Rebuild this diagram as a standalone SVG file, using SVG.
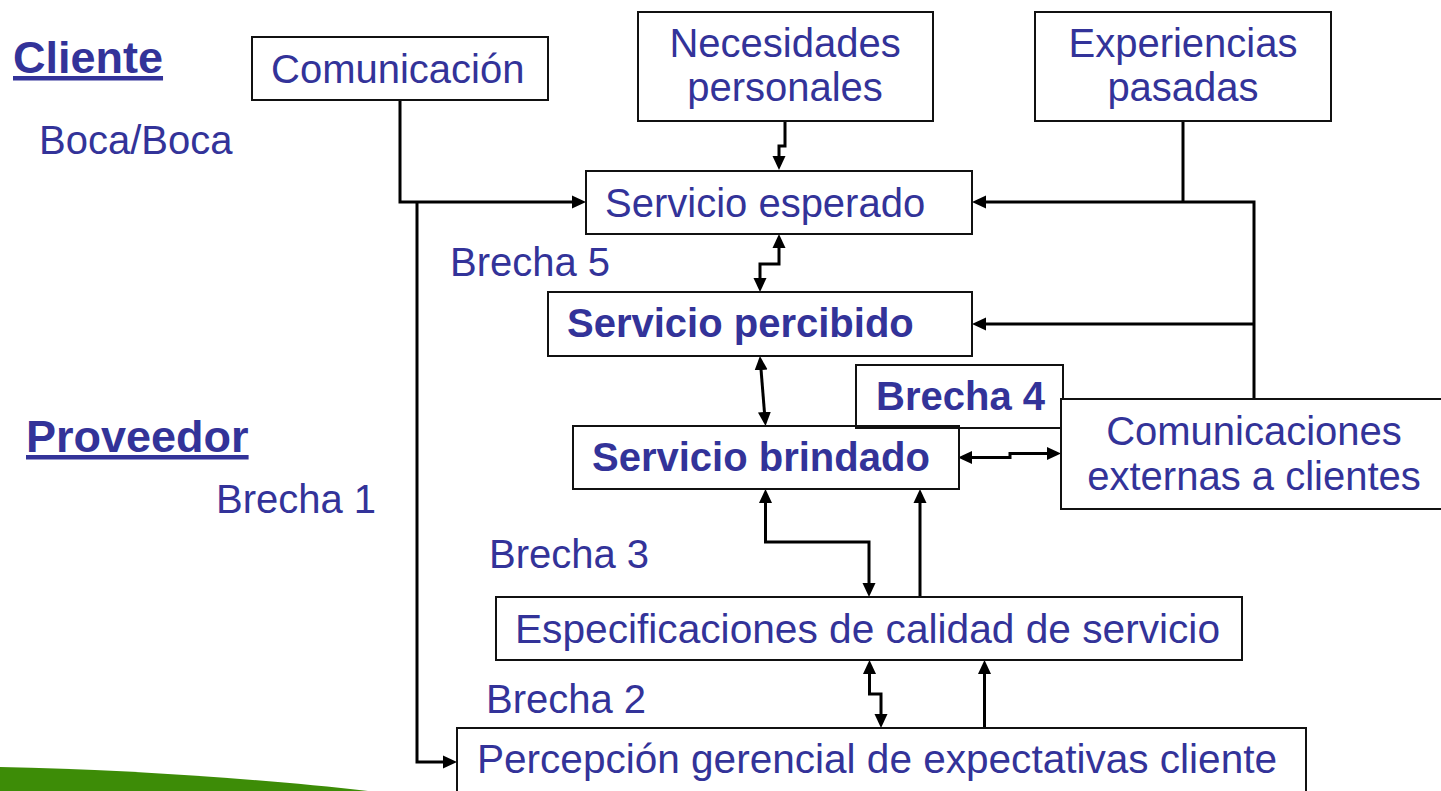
<svg xmlns="http://www.w3.org/2000/svg" width="1441" height="791" viewBox="0 0 1441 791">
<defs>
<style>
.box{fill:#fff;stroke:#111;stroke-width:2}
.t{font-family:"Liberation Sans",Arial,sans-serif;font-size:40px;fill:#333399}
.b{font-weight:bold}
.h{font-family:"Liberation Sans",Arial,sans-serif;font-size:45px;font-weight:bold;fill:#333399;text-decoration:underline}
.c{fill:none;stroke:#000;stroke-width:3}
.a{marker-end:url(#ah)}
.aa{marker-start:url(#ah);marker-end:url(#ah)}
</style>
<marker id="ah" markerUnits="userSpaceOnUse" viewBox="0 0 14 14" markerWidth="14" markerHeight="14" refX="7" refY="7" orient="auto-start-reverse">
<path d="M0,0.5 L14,7 L0,13.5 Z" fill="#000"/>
</marker>
</defs>
<rect width="1441" height="791" fill="#fff"/>
<path d="M0,767 C120,769 260,779 368,791 L0,791 Z" fill="#3d8c07"/>

<g id="labels">
<text class="h" x="13" y="73">Cliente</text>
<text class="t" x="39" y="154">Boca/Boca</text>
<text class="h" x="26" y="452">Proveedor</text>
<text class="t" x="216" y="513">Brecha 1</text>
<text class="t" x="450" y="276">Brecha 5</text>
<text class="t" x="489" y="568">Brecha 3</text>
<text class="t" x="486" y="713">Brecha 2</text>
</g>

<g id="connectors">
<path class="c a" d="M400,100 V202 H579"/>
<path class="c a" d="M417,202 V762 H450"/>
<path class="c a" d="M785,121 V146 H779 V163"/>
<path class="c" d="M1183,121 V202"/>
<path class="c a" d="M1254,399 V202 H979"/>
<path class="c a" d="M1254,324 H979"/>
<path class="c aa" d="M779,241 V264 H760 V285"/>
<path class="c aa" d="M760.5,363 L765,419"/>
<path class="c aa" d="M965,457.5 H1010 V453.5 H1054"/>
<path class="c aa" d="M765.5,496 V542 H869 V590"/>
<path class="c a" d="M920,597 V496"/>
<path class="c aa" d="M869.5,667 V694 H881 V721"/>
<path class="c a" d="M984.5,728 V667"/>
</g>

<g id="n-comunicacion">
<rect class="box" x="252" y="37" width="296" height="63"/>
<text class="t" x="271" y="83">Comunicación</text>
</g>
<g id="n-necesidades">
<rect class="box" x="638" y="12" width="295" height="109"/>
<text class="t" x="785" y="57" text-anchor="middle">Necesidades</text>
<text class="t" x="785" y="101" text-anchor="middle">personales</text>
</g>
<g id="n-experiencias">
<rect class="box" x="1035" y="12" width="296" height="109"/>
<text class="t" x="1183" y="57" text-anchor="middle">Experiencias</text>
<text class="t" x="1183" y="101" text-anchor="middle">pasadas</text>
</g>
<g id="n-esperado">
<rect class="box" x="586" y="171" width="386" height="63"/>
<text class="t" x="605" y="217">Servicio esperado</text>
</g>
<g id="n-percibido">
<rect class="box" x="548" y="292" width="424" height="64"/>
<text class="t b" x="567" y="337">Servicio percibido</text>
</g>
<g id="n-brecha4">
<rect class="box" x="856" y="365" width="207" height="63"/>
<text class="t b" x="876" y="410">Brecha 4</text>
</g>
<g id="n-brindado">
<rect class="box" x="573" y="426" width="386" height="63" style="fill:none"/>
<text class="t b" x="592" y="471">Servicio brindado</text>
</g>
<g id="n-comext">
<rect class="box" x="1061" y="399" width="390" height="110"/>
<text class="t" x="1254" y="445" text-anchor="middle">Comunicaciones</text>
<text class="t" x="1254" y="490" text-anchor="middle">externas a clientes</text>
</g>
<g id="n-especificaciones">
<rect class="box" x="496" y="597" width="746" height="63"/>
<text class="t" x="515" y="643" textLength="705" lengthAdjust="spacingAndGlyphs">Especificaciones de calidad de servicio</text>
</g>
<g id="n-percepcion">
<rect class="box" x="457" y="728" width="849" height="75"/>
<text class="t" x="477" y="773" textLength="800" lengthAdjust="spacingAndGlyphs">Percepción gerencial de expectativas cliente</text>
</g>
</svg>
